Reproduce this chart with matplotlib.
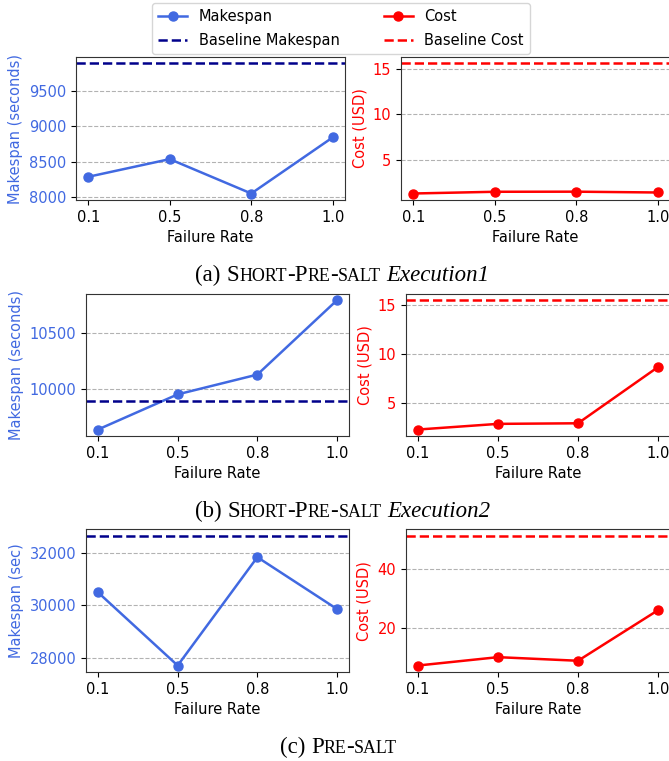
import matplotlib
matplotlib.use("Agg")
import matplotlib.pyplot as plt
from matplotlib.ticker import MultipleLocator

# Data
failure_rates = ["0.1", "0.5", "0.8", "1.0"]

makespan_a = [8288, 8538, 8052, 8846]
cost_a = [1.29, 1.48, 1.49, 1.40]

makespan_b = [9630, 9948, 10127, 10800]
cost_b = [2.26, 2.84, 2.90, 8.66]

makespan_c = [30497, 27709, 31835, 29859]
cost_c = [7.29, 10.12, 8.90, 26.03]

baseline_makespan = [9890, 9885, 32650]
baseline_cost = [15.55, 15.51, 51.24]

makespan_labels = ["Makespan (seconds)", "Makespan (seconds)", "Makespan (sec)"]
makespan_steps = [500, 500, 2000]
cost_steps = [5, 5, 20]

W, H = 669, 761
FS = 10.5
LW = 1.8
SERIF = "Liberation Serif"

plt.rcParams["font.size"] = FS

fig = plt.figure(figsize=(W / 100, H / 100), dpi=100)


def box(x0, y0, x1, y1):
    # pixel box (top-left origin) -> figure fraction rect
    return [x0 / W, 1 - y1 / H, (x1 - x0) / W, (y1 - y0) / H]


panels = [
    (makespan_a, cost_a, box(76, 57, 345, 200), box(401, 57, 670, 200)),
    (makespan_b, cost_b, box(86, 293.7, 349, 436), box(406, 293.7, 670, 436)),
    (makespan_c, cost_c, box(86, 529.3, 349, 672), box(406, 529.3, 670, 672)),
]

handles = None
for i, (ms, cs, rect_l, rect_r) in enumerate(panels):
    axl = fig.add_axes(rect_l)
    axr = fig.add_axes(rect_r)

    h1, = axl.plot(failure_rates, ms, "o-", color="royalblue", linewidth=LW,
                   markersize=6.5, label="Makespan")
    h2 = axl.axhline(baseline_makespan[i], color="darkblue", linestyle="--",
                     linewidth=LW, label="Baseline Makespan")
    axl.set_xlabel("Failure Rate")
    axl.set_ylabel(makespan_labels[i], color="royalblue")
    axl.tick_params(axis="y", labelcolor="royalblue")
    axl.yaxis.set_major_locator(MultipleLocator(makespan_steps[i]))
    axl.grid(axis="y", linestyle="--", color="gray", alpha=0.6)

    h3, = axr.plot(failure_rates, cs, "o-", color="red", linewidth=LW,
                   markersize=6.5, label="Cost")
    h4 = axr.axhline(baseline_cost[i], color="red", linestyle="--",
                     linewidth=LW, label="Baseline Cost")
    axr.set_xlabel("Failure Rate")
    axr.set_ylabel("Cost (USD)", color="red")
    axr.tick_params(axis="y", labelcolor="red")
    axr.yaxis.set_major_locator(MultipleLocator(cost_steps[i]))
    axr.grid(axis="y", linestyle="--", color="gray", alpha=0.6)

    for ax in (axl, axr):
        for sp in ax.spines.values():
            sp.set_color("#333333")

    if handles is None:
        handles = [h1, h2, h3, h4]

fig.legend(handles=handles, ncol=2, loc="upper center",
           bbox_to_anchor=(341 / W, 1 - 3 / H), borderaxespad=0,
           fontsize=FS, columnspacing=3.0, labelspacing=0.65)


def caption(xc, y_base, pieces, size=16.5):
    # draw a caption made of pieces (text, relative size, style), centred at xc px
    renderer = fig.canvas.get_renderer()
    texts = []
    for s, rel, style in pieces:
        t = fig.text(0, 1 - y_base / H, s, fontsize=size * rel, fontstyle=style,
                     family=SERIF, va="baseline")
        texts.append(t)
    widths = [t.get_window_extent(renderer).width for t in texts]
    x = xc - sum(widths) / 2
    for t, w in zip(texts, widths):
        t.set_x(x / W)
        x += w


SC = 0.78
caption(342.5, 281, [("(a) ", 1, "normal"), ("S", 1, "normal"), ("HORT", SC, "normal"),
                     ("-P", 1, "normal"), ("RE", SC, "normal"), ("-", 1, "normal"),
                     ("SALT", SC, "normal"), (" ", 1, "normal"),
                     ("Execution1", 1, "italic")])
caption(342.5, 517, [("(b) ", 1, "normal"), ("S", 1, "normal"), ("HORT", SC, "normal"),
                     ("-P", 1, "normal"), ("RE", SC, "normal"), ("-", 1, "normal"),
                     ("SALT", SC, "normal"), (" ", 1, "normal"),
                     ("Execution2", 1, "italic")])
caption(338.5, 753, [("(c) ", 1, "normal"), ("P", 1, "normal"), ("RE", SC, "normal"),
                     ("-", 1, "normal"), ("SALT", SC, "normal")])

fig.savefig("out.png", dpi=100)
